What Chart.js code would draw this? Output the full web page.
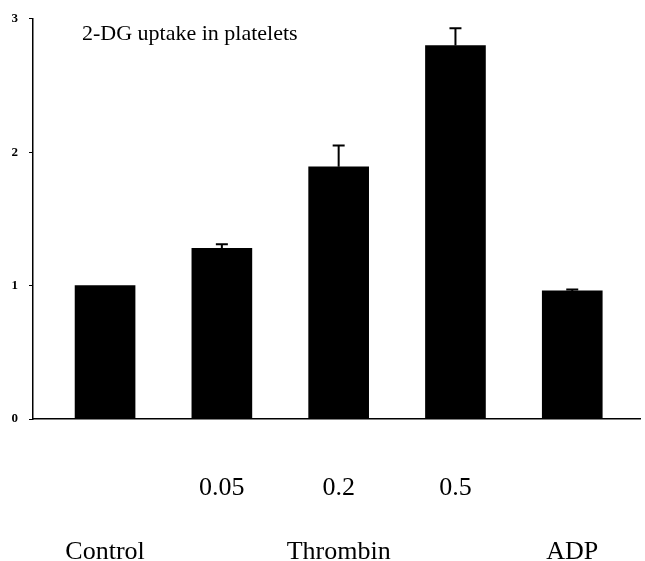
<!DOCTYPE html>
<html>
<head>
<meta charset="utf-8">
<script src="https://cdn.jsdelivr.net/npm/chart.js@4"></script>
<style>
  html, body { margin: 0; padding: 0; background: #fff; }
  #wrap { width: 645px; height: 561px; }
</style>
</head>
<body>
<div id="wrap"><canvas id="chart" width="645" height="561"></canvas></div>
<script>
// --- data ---
const doses = ["", "0.05", "0.2", "0.5", ""];
const groups = ["Control", "", "Thrombin", "", "ADP"];
const uptake = [1.0, 1.28, 1.89, 2.8, 0.96];
const errUp = [0.0, 0.03, 0.16, 0.13, 0.01];
const yTicks = [0, 1, 2, 3];

const serif = "'Liberation Serif', 'DejaVu Serif', serif";

// upper-only error bars, placed through the chart scales
const errorBars = {
  id: "errorBars",
  afterDatasetsDraw(chart) {
    const { ctx, scales } = chart;
    ctx.save();
    ctx.strokeStyle = "#000";
    ctx.lineWidth = 2;
    uptake.forEach((v, i) => {
      if (!errUp[i]) return;
      const x = scales.x.getPixelForValue(i);
      const yTop = scales.y.getPixelForValue(v + errUp[i]);
      const yBar = scales.y.getPixelForValue(v);
      ctx.beginPath();
      ctx.moveTo(x, yBar);
      ctx.lineTo(x, yTop);
      ctx.moveTo(x - 6, yTop);
      ctx.lineTo(x + 6, yTop);
      ctx.stroke();
    });
    ctx.restore();
  },
};

// title text sits inside the plot area
const plotTitle = {
  id: "plotTitle",
  afterDraw(chart) {
    const { ctx } = chart;
    ctx.save();
    ctx.fillStyle = "#000";
    ctx.font = "22px " + serif;
    ctx.textBaseline = "middle";
    ctx.fillText("2-DG uptake in platelets", 82, 34);
    ctx.restore();
  },
};

new Chart(document.getElementById("chart"), {
  type: "bar",
  data: {
    datasets: [
      {
        data: uptake.map((v, i) => ({ x: i, y: v })),
        backgroundColor: "#000",
        borderWidth: 0,
        barThickness: 60,
      },
    ],
  },
  options: {
    responsive: false,
    animation: false,
    layout: { padding: { top: 10, right: 5, left: 0, bottom: 0 } },
    plugins: { legend: { display: false }, tooltip: { enabled: false } },
    scales: {
      x: {
        type: "linear",
        offset: false,
        min: -0.617,
        max: 4.58,
        afterBuildTicks: (axis) => {
          axis.ticks = uptake.map((v, i) => ({ value: i }));
        },
        afterFit: (axis) => { axis.height = 142; },
        grid: { display: false, drawTicks: false, offset: false },
        border: { display: true, color: "#000", width: 1.5 },
        ticks: {
          autoSkip: false,
          maxRotation: 0,
          padding: 37,
          color: "#000",
          font: { family: serif, size: 26, lineHeight: 2.46 },
          callback: (value) => {
            const i = Math.round(value);
            return [doses[i] || " ", groups[i] || " "];
          },
        },
      },
      y: {
        min: 0,
        max: 3,
        afterBuildTicks: (axis) => {
          axis.ticks = yTicks.map((v) => ({ value: v }));
        },
        afterFit: (axis) => { axis.width = 33; },
        grid: { drawOnChartArea: false, tickLength: 4, color: "#000" },
        border: { display: true, color: "#000", width: 1.5 },
        ticks: {
          padding: 11,
          color: "#000",
          font: { family: serif, size: 13, weight: "bold" },
        },
      },
    },
  },
  plugins: [errorBars, plotTitle],
});
</script>
</body>
</html>
